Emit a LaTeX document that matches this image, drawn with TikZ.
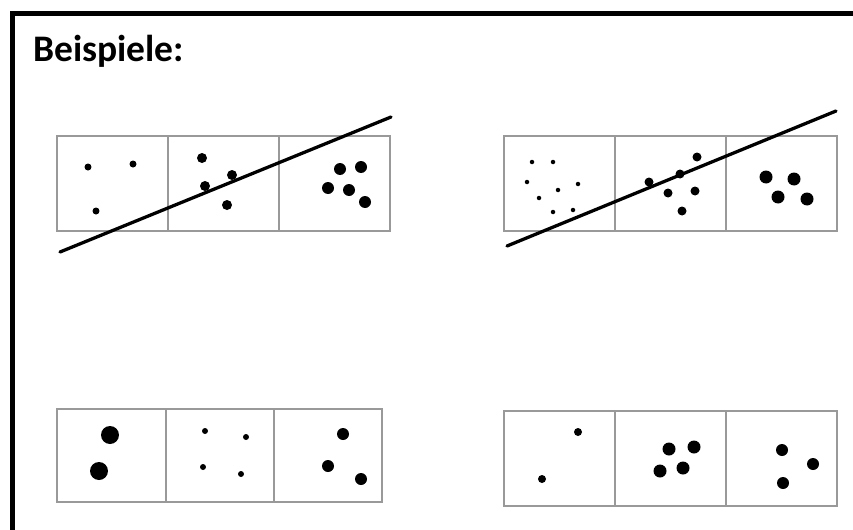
\documentclass[tikz,border=0pt]{standalone}
\usepackage{fontspec}
\setmainfont{Carlito}
\usepackage{tikz}

\tikzset{
  cell/.style={draw=black!40, line width=0.9pt},
  dot/.style={circle, fill=black, inner sep=0pt, minimum size=#1},
  cut/.style={line width=2.8pt, line cap=round},
}

\begin{document}
\begin{tikzpicture}[x=0.03cm, y=-0.03cm]
  \useasboundingbox (0,0) rectangle (853,529);
  \draw[line width=3.8pt] (12.5,540) -- (12.5,13.5) -- (870,13.5);
  \node[anchor=base west, inner sep=0pt, font=\bfseries\fontsize{32}{38}\selectfont] (title) at (33,61) {Beispiele:};

  % oben links
  \draw[cell] (57,136) rectangle (168,231);
  \draw[cell] (168,136) rectangle (279,231);
  \draw[cell] (279,136) rectangle (390,231);
  \node[dot=7pt*0.853] (a1) at (88,167) {};
  \node[dot=7pt*0.853] (a2) at (133,164) {};
  \node[dot=7pt*0.853] (a3) at (96,211) {};
  \node[dot=10pt*0.853] (b1) at (202,158) {};
  \node[dot=10pt*0.853] (b2) at (232,175) {};
  \node[dot=10pt*0.853] (b3) at (205,186) {};
  \node[dot=10pt*0.853] (b4) at (227,205) {};
  \node[dot=12pt*0.853] (c1) at (340,169) {};
  \node[dot=12pt*0.853] (c2) at (361,167) {};
  \node[dot=12pt*0.853] (c3) at (328,188) {};
  \node[dot=12pt*0.853] (c4) at (349,190) {};
  \node[dot=12pt*0.853] (c5) at (365,202) {};
  \coordinate (l1) at (60,252);
  \coordinate (r1) at (391,117);
  \draw[cut] (l1) -- (r1);

  % oben rechts
  \draw[cell] (504,136) rectangle (615,231);
  \draw[cell] (615,136) rectangle (726,231);
  \draw[cell] (726,136) rectangle (837,231);
  \node[dot=4.5pt*0.853] (d1) at (532,162) {};
  \node[dot=4.5pt*0.853] (d2) at (553,162) {};
  \node[dot=4.5pt*0.853] (d3) at (527,182) {};
  \node[dot=4.5pt*0.853] (d4) at (578,184) {};
  \node[dot=4.5pt*0.853] (d5) at (558,190) {};
  \node[dot=4.5pt*0.853] (d6) at (539,198) {};
  \node[dot=4.5pt*0.853] (d7) at (553,212) {};
  \node[dot=4.5pt*0.853] (d8) at (573,210) {};
  \node[dot=9pt*0.853] (e1) at (697,157) {};
  \node[dot=9pt*0.853] (e2) at (680,174) {};
  \node[dot=9pt*0.853] (e3) at (649,182) {};
  \node[dot=9pt*0.853] (e4) at (668,193) {};
  \node[dot=9pt*0.853] (e5) at (695,191) {};
  \node[dot=9pt*0.853] (e6) at (682,211) {};
  \node[dot=13pt*0.853] (f1) at (766,177) {};
  \node[dot=13pt*0.853] (f2) at (794,179) {};
  \node[dot=13pt*0.853] (f3) at (778,197) {};
  \node[dot=13pt*0.853] (f4) at (807,199) {};
  \coordinate (l2) at (507,246);
  \coordinate (r2) at (836,111);
  \draw[cut] (l2) -- (r2);

  % unten links
  \draw[cell] (57,409) rectangle (166,502);
  \draw[cell] (166,409) rectangle (274,502);
  \draw[cell] (274,409) rectangle (382,502);
  \node[dot=18pt*0.853] (g1) at (110,435) {};
  \node[dot=18pt*0.853] (g2) at (99,471) {};
  \node[dot=6pt*0.853] (h1) at (205,431) {};
  \node[dot=6pt*0.853] (h2) at (246,437) {};
  \node[dot=6pt*0.853] (h3) at (203,467) {};
  \node[dot=6pt*0.853] (h4) at (241,474) {};
  \node[dot=12pt*0.853] (i1) at (343,434) {};
  \node[dot=12pt*0.853] (i2) at (328,466) {};
  \node[dot=12pt*0.853] (i3) at (361,479) {};

  % unten rechts
  \draw[cell] (504,411) rectangle (615,506);
  \draw[cell] (615,411) rectangle (726,506);
  \draw[cell] (726,411) rectangle (837,506);
  \node[dot=8pt*0.853] (j1) at (578,432) {};
  \node[dot=8pt*0.853] (j2) at (542,479) {};
  \node[dot=13pt*0.853] (k1) at (669,449) {};
  \node[dot=13pt*0.853] (k2) at (694,447) {};
  \node[dot=13pt*0.853] (k3) at (660,471) {};
  \node[dot=13pt*0.853] (k4) at (683,468) {};
  \node[dot=12pt*0.853] (m1) at (782,450) {};
  \node[dot=12pt*0.853] (m2) at (813,464) {};
  \node[dot=12pt*0.853] (m3) at (783,483) {};
\end{tikzpicture}
\end{document}
